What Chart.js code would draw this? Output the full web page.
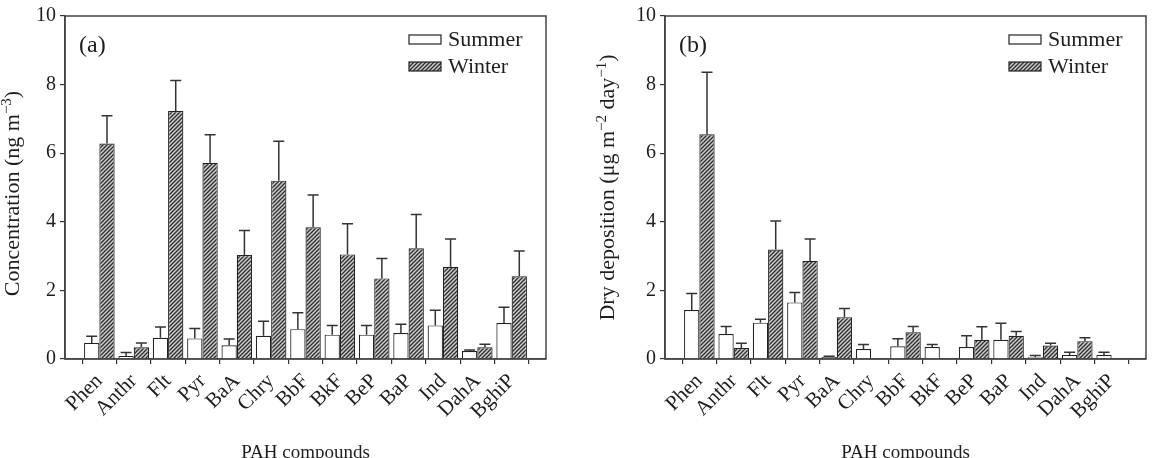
<!DOCTYPE html>
<html>
<head>
<meta charset="utf-8">
<script src="https://cdn.jsdelivr.net/npm/chart.js@4.4.1/dist/chart.umd.min.js"></script>
<style>
  html, body { margin: 0; padding: 0; background: #fff; }
  #wrap { position: relative; width: 1157px; height: 458px; overflow: hidden; }
  #panelA { position: absolute; left: 0; top: 0; }
  #panelB { position: absolute; left: 578px; top: 0; }
</style>
</head>
<body>
<div id="wrap">
  <canvas id="panelA" width="578" height="458"></canvas>
  <canvas id="panelB" width="579" height="458"></canvas>
</div>
<script>
// compuestos PAH (eje x)
const compuestos = ['Phen', 'Anthr', 'Flt', 'Pyr', 'BaA', 'Chry', 'BbF', 'BkF', 'BeP', 'BaP', 'Ind', 'DahA', 'BghiP'];
const yTicks = [0, 2, 4, 6, 8, 10];

// (a) concentración, ng m-3
const concVerano = [0.47, 0.09, 0.62, 0.60, 0.40, 0.68, 0.87, 0.71, 0.71, 0.76, 0.98, 0.23, 1.05];
const concVeranoErr = [0.19, 0.10, 0.31, 0.29, 0.18, 0.42, 0.48, 0.27, 0.27, 0.25, 0.44, 0.03, 0.46];
const concInvierno = [6.28, 0.34, 7.23, 5.72, 3.03, 5.20, 3.84, 3.05, 2.35, 3.23, 2.69, 0.34, 2.41];
const concInviernoErr = [0.81, 0.13, 0.89, 0.82, 0.72, 1.15, 0.94, 0.89, 0.58, 0.98, 0.81, 0.09, 0.74];

// (b) deposición seca, µg m-2 day-1
const depVerano = [1.43, 0.73, 1.06, 1.65, 0.06, 0.29, 0.37, 0.35, 0.35, 0.56, 0.05, 0.12, 0.12];
const depVeranoErr = [0.48, 0.22, 0.10, 0.29, 0.02, 0.13, 0.22, 0.07, 0.33, 0.48, 0.05, 0.08, 0.08];
const depInvierno = [6.55, 0.32, 3.19, 2.86, 1.22, 0.03, 0.78, 0.03, 0.56, 0.68, 0.39, 0.52, 0];
const depInviernoErr = [1.81, 0.14, 0.83, 0.64, 0.25, 0, 0.17, 0, 0.38, 0.12, 0.07, 0.10, 0];

const FUENTE = "'Liberation Serif', 'Times New Roman', serif";
const TINTA = '#1e1e1e';

// patrón rayado para invierno
function crearRayado() {
    const c = document.createElement('canvas');
    c.width = 4; c.height = 4;
    const g = c.getContext('2d');
    g.fillStyle = '#cccccc';
    g.fillRect(0, 0, 4, 4);
    g.strokeStyle = '#2e2e2e';
    g.lineWidth = 1.3;
    g.beginPath();
    g.moveTo(-1, 5); g.lineTo(5, -1);
    g.moveTo(-1, 1); g.lineTo(1, -1);
    g.moveTo(3, 5); g.lineTo(5, 3);
    g.stroke();
    return g.createPattern(c, 'repeat');
}
const rayado = crearRayado();

// barras de error (solo hacia arriba) + marco + leyenda + etiqueta del panel + título Y
const extrasPlugin = {
    id: 'extras',
    afterDatasetsDraw(chart, args, opts) {
        const ctx = chart.ctx;
        const y = chart.scales.y;
        ctx.save();
        ctx.strokeStyle = '#333';
        ctx.lineWidth = 1.5;
        chart.data.datasets.forEach((ds, i) => {
            const meta = chart.getDatasetMeta(i);
            meta.data.forEach((bar, j) => {
                const v = ds.data[j];
                const e = ds.errores[j];
                if (v == null || !e) return;
                const y0 = y.getPixelForValue(v);
                const y1 = y.getPixelForValue(v + e);
                ctx.beginPath();
                ctx.moveTo(bar.x, y0); ctx.lineTo(bar.x, y1);
                ctx.moveTo(bar.x - 5.5, y1); ctx.lineTo(bar.x + 5.5, y1);
                ctx.stroke();
            });
        });
        ctx.restore();
    },
    afterDraw(chart, args, opts) {
        const ctx = chart.ctx;
        const a = chart.chartArea;
        ctx.save();
        ctx.strokeStyle = '#444';
        ctx.lineWidth = 1.5;
        ctx.strokeRect(a.left, a.top, a.right - a.left, a.bottom - a.top);

        // etiqueta (a)/(b)
        ctx.fillStyle = TINTA;
        ctx.font = '24px ' + FUENTE;
        ctx.textBaseline = 'middle';
        ctx.textAlign = 'left';
        ctx.fillText(opts.etiqueta, a.left + 14, a.top + 30);

        // leyenda
        const bx = a.right - 137;
        const items = [
            { texto: 'Summer', fondo: '#fff', cy: a.top + 23.5 },
            { texto: 'Winter', fondo: rayado, cy: a.top + 50.5 }
        ];
        ctx.font = '22px ' + FUENTE;
        items.forEach(it => {
            ctx.fillStyle = it.fondo;
            ctx.fillRect(bx, it.cy - 4.5, 32, 9);
            ctx.strokeStyle = '#222';
            ctx.lineWidth = 1.2;
            ctx.strokeRect(bx, it.cy - 4.5, 32, 9);
            ctx.fillStyle = TINTA;
            ctx.fillText(it.texto, bx + 39, it.cy + 1);
        });

        // título del eje Y con superíndices
        const partes = opts.tituloY;
        const medir = p => { ctx.font = (p[1] ? '15px ' : '22px ') + FUENTE; return ctx.measureText(p[0]).width; };
        const total = partes.reduce((s, p) => s + medir(p), 0);
        ctx.translate(opts.tituloX, (a.top + a.bottom) / 2 + opts.tituloDy);
        ctx.rotate(-Math.PI / 2);
        ctx.textBaseline = 'alphabetic';
        let x = -total / 2;
        partes.forEach(p => {
            const w = medir(p);
            ctx.fillText(p[0], x, p[1] ? -1 : 7);
            x += w;
        });
        ctx.restore();
    }
};

function crearPanel(id, verano, veranoErr, invierno, invernoErr, tituloY, etiqueta, anchoY, padDer, tituloX, tituloDy) {
    const etiquetas = ['', ...compuestos, ''];
    const ctx = document.getElementById(id).getContext('2d');
    return new Chart(ctx, {
        type: 'bar',
        data: {
            labels: etiquetas,
            datasets: [
                { label: 'Summer', data: [null, ...verano, null], errores: [0, ...veranoErr, 0],
                  backgroundColor: '#fff', borderColor: '#222', borderWidth: 1.2 },
                { label: 'Winter', data: [null, ...invierno, null], errores: [0, ...invernoErr, 0],
                  backgroundColor: rayado, borderColor: '#222', borderWidth: 1.2 }
            ]
        },
        options: {
            responsive: false,
            animation: false,
            devicePixelRatio: 1,
            layout: { padding: { top: 13, right: padDer, left: 0, bottom: 0 } },
            datasets: { bar: { categoryPercentage: 0.89, barPercentage: 1.0 } },
            plugins: {
                legend: { display: false },
                tooltip: { enabled: false },
                extras: { etiqueta: etiqueta, tituloY: tituloY, tituloX: tituloX, tituloDy: tituloDy }
            },
            scales: {
                x: {
                    offset: false,
                    grid: { display: true, drawOnChartArea: false, drawTicks: true, tickLength: 5, color: '#333', lineWidth: 1.2 },
                    border: { display: true, color: '#444', width: 1.5 },
                    ticks: { autoSkip: false, maxRotation: 45, minRotation: 45, padding: 5, color: TINTA,
                             font: { family: FUENTE, size: 21 } },
                    title: { display: true, text: 'PAH compounds', color: TINTA,
                             font: { family: FUENTE, size: 19 }, padding: { top: 0, bottom: -6 } },
                    afterFit: s => { s.height = 99; s.paddingLeft = 0; s.paddingRight = 0; }
                },
                y: {
                    min: 0, max: 10,
                    afterBuildTicks: s => { s.ticks = yTicks.map(v => ({ value: v })); },
                    grid: { display: true, drawOnChartArea: false, drawTicks: true, tickLength: 5, color: '#333', lineWidth: 1.2 },
                    border: { display: true, color: '#444', width: 1.5 },
                    ticks: { padding: 4, color: TINTA, font: { family: FUENTE, size: 20 } },
                    title: { display: false },
                    afterFit: s => { s.width = anchoY; }
                }
            }
        },
        plugins: [extrasPlugin]
    });
}

crearPanel('panelA', concVerano, concVeranoErr, concInvierno, concInviernoErr,
    [['Concentration (ng m', 0], ['\u22123', 1], [')', 0]], '(a)', 65, 32, 12, 6);
crearPanel('panelB', depVerano, depVeranoErr, depInvierno, depInviernoErr,
    [['Dry deposition (\u03BCg m', 0], ['\u22122', 1], [' day', 0], ['\u22121', 1], [')', 0]], '(b)', 87, 11, 29, 0);
</script>
</body>
</html>
